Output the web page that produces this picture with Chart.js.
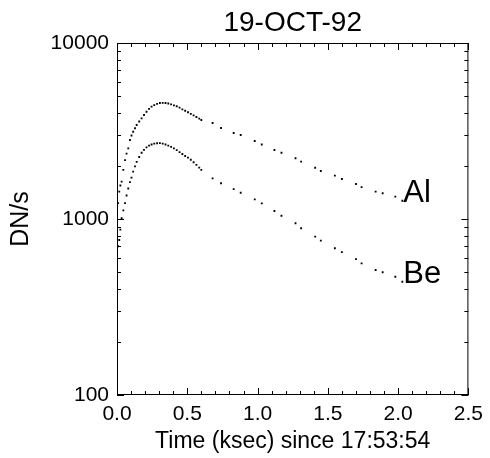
<!DOCTYPE html>
<html>
<head>
<meta charset="utf-8">
<script src="https://cdn.jsdelivr.net/npm/chart.js@4"></script>
<style>
  body { margin: 0; background: #fff; }
  #wrap { width: 490px; height: 458px; }
</style>
</head>
<body>
<div id="wrap"><canvas id="lc" width="490" height="458"></canvas></div>
<script>
// time since 17:53:54, in ksec
const timeKsec = [
  0.000, 0.008, 0.016, 0.024, 0.033, 0.045, 0.057, 0.068, 0.080, 0.092,
  0.103, 0.115, 0.128, 0.140, 0.158, 0.175, 0.192, 0.210, 0.228, 0.246,
  0.265, 0.285, 0.305, 0.325, 0.345, 0.365, 0.385, 0.405, 0.425, 0.445,
  0.465, 0.485, 0.505, 0.525, 0.545, 0.565, 0.585, 0.600,
  0.68, 0.74, 0.83, 0.88, 0.98, 1.03, 1.12, 1.17, 1.27, 1.31,
  1.41, 1.45, 1.55, 1.60, 1.70, 1.74, 1.84, 1.89, 1.98, 2.03
];
// count rates, DN/s
const alRate = [
  1000, 1230, 1430, 1550, 1630, 1900, 2160, 2350, 2520, 2810,
  2980, 3130, 3280, 3420, 3580, 3730, 3900, 4070, 4220, 4350,
  4440, 4510, 4560, 4570, 4560, 4530, 4480, 4420, 4370, 4290,
  4200, 4120, 4040, 3960, 3880, 3800, 3720, 3650,
  3510, 3290, 3080, 3000, 2775, 2650, 2465, 2380, 2215, 2120,
  1956, 1873, 1763, 1688, 1581, 1516, 1430, 1400, 1340, 1270
];
const beRate = [
  620, 700, 760, 870, 1010, 1120, 1230, 1360, 1490, 1620,
  1720, 1860, 1990, 2110, 2250, 2380, 2470, 2550, 2610, 2650,
  2680, 2695, 2700, 2680, 2650, 2610, 2570, 2520, 2460, 2400,
  2340, 2280, 2230, 2170, 2100, 2030, 1960, 1900,
  1702, 1596, 1479, 1409, 1294, 1228, 1110, 1044, 946, 886,
  794, 754, 682, 648, 591, 560, 513, 498, 470, 440
];
const seriesNames = ["Al", "Be"];
const yTickLabels = [100, 1000, 10000];
const xTickStep = 0.5;

const fontFam = "'Liberation Sans', Arial, Helvetica, sans-serif";
Chart.defaults.font.family = fontFam;
Chart.defaults.color = "#000";

function toPoints(ys) {
  return timeKsec.map((t, i) => ({ x: t, y: ys[i] }));
}

// frame, inward ticks, title and the Al / Be labels
const idlBox = {
  id: "idlBox",
  afterDatasetsDraw(chart) {
    const c = chart.ctx;
    const a = chart.chartArea;
    const xs = chart.scales.x, ys = chart.scales.y;
    c.save();
    c.strokeStyle = "#000";
    c.lineWidth = 1;
    c.strokeRect(a.left + 0.5, a.top + 0.5, a.right - a.left - 1, a.bottom - a.top - 1);
    c.beginPath();
    for (let i = 0; i <= 25; i++) {
      const px = Math.round(xs.getPixelForValue(i / 10)) + 0.5;
      const len = i % 5 === 0 ? 7 : 4;
      c.moveTo(px, a.bottom); c.lineTo(px, a.bottom - len);
      c.moveTo(px, a.top); c.lineTo(px, a.top + len);
    }
    for (let dec = 100; dec < 10000; dec *= 10) {
      for (let m = 1; m <= 9; m++) {
        const py = Math.round(ys.getPixelForValue(m * dec)) + 0.5;
        const len = m === 1 ? 7 : 4;
        c.moveTo(a.left, py); c.lineTo(a.left + len, py);
        c.moveTo(a.right, py); c.lineTo(a.right - len, py);
      }
    }
    c.stroke();

    c.fillStyle = "#000";
    c.font = "28px " + fontFam;
    c.textAlign = "center";
    c.textBaseline = "middle";
    c.fillText("19-OCT-92", (a.left + a.right) / 2, 23);

    c.font = "31px " + fontFam;
    c.textAlign = "left";
    c.textBaseline = "alphabetic";
    chart.data.datasets.forEach((ds) => {
      const last = ds.data[ds.data.length - 1];
      c.fillText(ds.label, xs.getPixelForValue(last.x) + 1, ys.getPixelForValue(last.y) + 1);
    });
    c.restore();
  }
};

new Chart(document.getElementById("lc"), {
  type: "scatter",
  data: {
    datasets: [
      { label: seriesNames[0], data: toPoints(alRate) },
      { label: seriesNames[1], data: toPoints(beRate) }
    ]
  },
  options: {
    responsive: false,
    animation: false,
    layout: { padding: { top: 43, right: 20, left: 0, bottom: 0 } },
    elements: {
      point: { radius: 1.3, borderWidth: 0, backgroundColor: "#000", pointStyle: "rect" }
    },
    plugins: { legend: { display: false }, tooltip: { enabled: false } },
    scales: {
      x: {
        type: "linear",
        min: 0, max: 2.5,
        grid: { display: false, drawTicks: false },
        border: { display: false },
        ticks: {
          stepSize: xTickStep,
          padding: 7,
          font: { size: 21 },
          maxRotation: 0,
          callback: (v) => v.toFixed(1)
        },
        title: { display: true, text: "Time (ksec) since 17:53:54", font: { size: 23 }, padding: { top: 0, bottom: 3 } },
        afterFit: (s) => { s.height = 63; }
      },
      y: {
        type: "logarithmic",
        min: 100, max: 10000,
        grid: { display: false, drawTicks: false },
        border: { display: false },
        ticks: {
          autoSkip: false,
          padding: 8,
          font: { size: 21 },
          callback: (v) => (yTickLabels.includes(v) ? String(v) : "")
        },
        title: { display: true, text: "DN/s", font: { size: 25 }, padding: { top: 6, bottom: 0 } },
        afterFit: (s) => { s.width = 117; }
      }
    }
  },
  plugins: [idlBox]
});
</script>
</body>
</html>
